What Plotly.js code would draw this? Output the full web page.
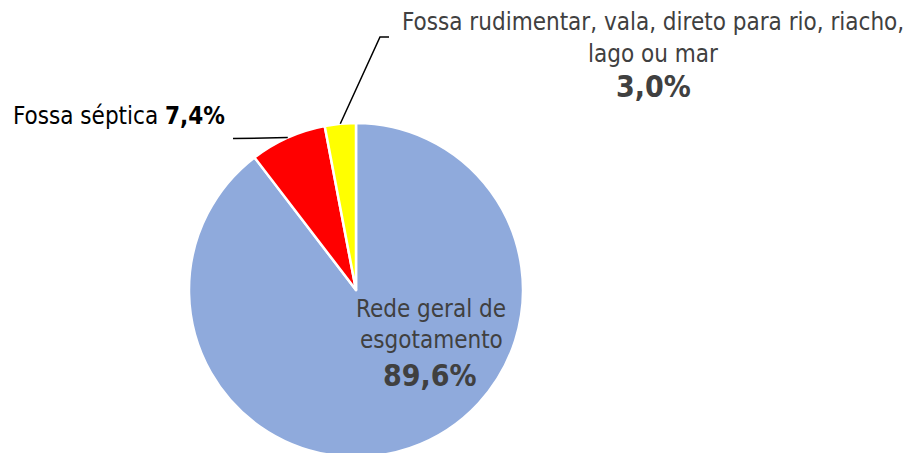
<!DOCTYPE html>
<html>
<head>
<meta charset="utf-8">
<script src="https://cdn.plot.ly/plotly-3.0.1.min.js"></script>
<style>
html,body{margin:0;padding:0;overflow:hidden;background:#fff;}
#chart{width:909px;height:460px;}
</style>
</head>
<body>
<div id="chart"></div>
<script>
// ---- data ----
const categories = ['Rede geral de esgotamento', 'Fossa séptica', 'Fossa rudimentar, vala, direto para rio, riacho, lago ou mar'];
const values = [89.6, 7.4, 3.0];
const valueLabels = ['89,6%', '7,4%', '3,0%'];
const labelLines = [
  ['Rede geral de', 'esgotamento'],
  ['Fossa séptica'],
  ['Fossa rudimentar, vala, direto para rio, riacho,', 'lago ou mar']
];
const colors = ['#8FAADC', '#FF0000', '#FFFF00'];

// ---- layout geometry ----
const W = 909, H = 460;
const M = {l: 189, r: 386, t: 123, b: 3};
const PW = W - M.l - M.r, PH = H - M.t - M.b;
const FONT = '"DejaVu Sans Condensed", "DejaVu Sans", sans-serif';
const GRAY = '#404040';
const REG = 24, BOLD = 30;

function px(X, Y) { return {x: (X - M.l) / PW, y: (H - M.b - Y) / PH}; }

// slice mid-points on the rim (paper coords), from the data
const total = values.reduce((a, b) => a + b, 0);
let cum = 0;
const rim = values.map(v => {
  const mid = (cum + v / 2) / total; cum += v;
  const a = mid * 2 * Math.PI; // clockwise from 12 o'clock
  return {x: 0.5 + 0.5 * Math.sin(a), y: 0.5 + 0.5 * Math.cos(a)};
});

const trace = {
  type: 'pie',
  labels: categories,
  values: values,
  sort: false,
  direction: 'clockwise',
  rotation: 0,
  marker: {colors: colors, line: {color: '#FFFFFF', width: 2.5}},
  textinfo: 'none',
  hoverinfo: 'label+percent',
  showlegend: false,
  domain: {x: [0, 1], y: [0, 1]}
};

function ann(X, Y, text, opts) {
  const p = px(X, Y);
  return Object.assign({
    xref: 'paper', yref: 'paper', x: p.x, y: p.y,
    text: text, showarrow: false,
    xanchor: 'center', yanchor: 'middle',
    font: {family: FONT, size: REG, color: GRAY}
  }, opts || {});
}

const annotations = [
  // Rede geral
  ann(431, 309, labelLines[0][0]),
  ann(431, 340, labelLines[0][1]),
  ann(430, 375, '<b>' + valueLabels[0] + '</b>', {font: {family: FONT, size: BOLD, color: GRAY}}),
  // Fossa séptica
  ann(11, 116, labelLines[1][0] + ' <b>' + valueLabels[1] + '</b>', {xanchor: 'left', font: {family: FONT, size: REG, color: '#000000'}}),
  // Fossa rudimentar
  ann(653, 22, labelLines[2][0]),
  ann(653, 54, labelLines[2][1]),
  ann(653, 86, '<b>' + valueLabels[2] + '</b>', {font: {family: FONT, size: BOLD, color: GRAY}})
];

const redEnd = px(233, 0).x;
const yMid = px(380, 37), yEnd = px(389, 37);
const shapes = [
  {type: 'line', xref: 'paper', yref: 'paper', x0: rim[1].x, y0: rim[1].y, x1: redEnd, y1: rim[1].y - 1 / PH,
   line: {color: '#000000', width: 1.5}},
  {type: 'path', xref: 'paper', yref: 'paper',
   path: 'M ' + rim[2].x + ' ' + rim[2].y + ' L ' + yMid.x + ' ' + yMid.y + ' L ' + yEnd.x + ' ' + yEnd.y,
   line: {color: '#000000', width: 1.5}}
];

const layout = {
  width: W, height: H,
  margin: M,
  paper_bgcolor: '#FFFFFF',
  plot_bgcolor: '#FFFFFF',
  annotations: annotations,
  shapes: shapes,
  showlegend: false
};

Plotly.newPlot('chart', [trace], layout, {staticPlot: true, displayModeBar: false});
</script>
</body>
</html>
